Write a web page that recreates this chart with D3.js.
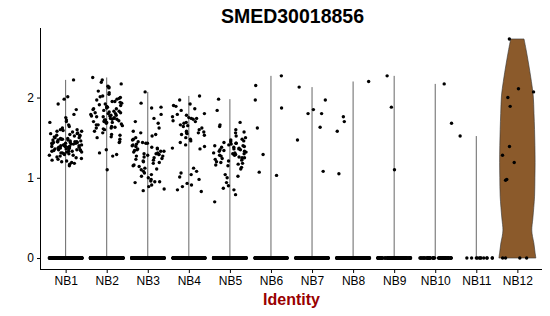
<!doctype html><html><head></head><body style="margin:0;background:#fff"><script src='https://d3js.org/d3.v7.min.js'></script>

<style>
	svg text {
		font-family: "Liberation Sans", Arial, sans-serif;
		fill: black;
	}
</style>

<script>
  // cluster names
  var groups = ["NB1", "NB2", "NB3", "NB4", "NB5", "NB6", "NB7", "NB8", "NB9", "NB10", "NB11", "NB12"];
  var yTicks = [0, 1, 2];

  // non-zero expression values per cluster
  var nb1 = [2.22, 2.01, 1.98, 1.92, 1.85, 1.79, 1.75, 1.72, 1.70, 1.69, 1.66, 1.64,
    1.62, 1.60, 1.60, 1.59, 1.58, 1.58, 1.57, 1.56, 1.55, 1.55, 1.54, 1.53, 1.53, 1.52, 1.51, 1.50,
    1.50, 1.49, 1.49, 1.48, 1.48, 1.47, 1.47, 1.46, 1.46, 1.45, 1.45, 1.45, 1.44, 1.44, 1.43, 1.43,
    1.43, 1.42, 1.42, 1.41, 1.41, 1.40, 1.40, 1.40, 1.39, 1.39, 1.38, 1.38, 1.37, 1.37, 1.36, 1.36,
    1.35, 1.35, 1.34, 1.34, 1.33, 1.33, 1.32, 1.32, 1.31, 1.30, 1.30, 1.29, 1.28, 1.28, 1.27, 1.26,
    1.25, 1.24, 1.23, 1.22, 1.21, 1.20, 1.19, 1.18, 1.17, 1.15, 1.44, 1.41, 1.38, 1.36, 1.47, 1.52,
    1.39, 1.42, 1.35, 1.31, 1.45, 1.40, 1.37, 1.33];
  var nb2 = [2.25, 2.22, 2.19, 2.17, 2.14, 2.13, 2.12, 2.06, 2.04, 2.02, 2.00, 1.98, 1.97, 1.95, 1.95,
    1.93, 1.92, 1.90, 1.89, 1.88, 1.87, 1.86, 1.85, 1.84, 1.83, 1.82, 1.81, 1.80, 1.80, 1.79, 1.78,
    1.77, 1.76, 1.76, 1.75, 1.74, 1.73, 1.72, 1.72, 1.71, 1.70, 1.70, 1.69, 1.68, 1.67, 1.66, 1.65,
    1.64, 1.63, 1.62, 1.61, 1.60, 1.58, 1.56, 1.54, 1.53, 1.51, 1.50, 1.48, 1.45, 1.44, 1.35, 1.31,
    1.29, 1.27, 1.10, 1.91, 1.83, 1.78, 1.74, 1.69, 1.86, 1.94, 2.01, 1.81, 1.73, 1.66, 1.77, 1.99,
    2.08, 1.71, 1.62];
  var nb3 = [2.07, 1.93, 1.88, 1.87, 1.79, 1.74, 1.70, 1.62, 1.58, 1.56, 1.54, 1.52, 1.50, 1.48, 1.45,
    1.43, 1.43, 1.42, 1.40, 1.39, 1.38, 1.37, 1.36, 1.35, 1.34, 1.33, 1.32, 1.31, 1.30, 1.30, 1.29,
    1.28, 1.27, 1.26, 1.25, 1.24, 1.23, 1.22, 1.21, 1.20, 1.18, 1.16, 1.15, 1.14, 1.12, 1.10, 1.08,
    1.06, 1.04, 1.02, 1.00, 0.98, 0.96, 0.95, 0.95, 0.94, 0.91, 0.89, 0.86, 0.84, 1.41, 1.33, 1.27,
    1.19, 1.36, 1.44, 1.29, 1.11, 1.68, 1.47];
  var nb4 = [2.02, 1.92, 1.90, 1.89, 1.84, 1.80, 1.78, 1.76, 1.75, 1.74, 1.74, 1.73, 1.71, 1.69, 1.68,
    1.66, 1.65, 1.64, 1.62, 1.60, 1.58, 1.57, 1.56, 1.56, 1.55, 1.53, 1.50, 1.48, 1.46, 1.44, 1.41,
    1.39, 1.37, 1.36, 1.12, 1.08, 1.06, 1.04, 1.01, 0.98, 0.93, 0.91, 0.89, 0.85, 0.83, 1.86, 1.70,
    1.54, 1.97, 1.79];
  var nb5 = [1.98, 1.84, 1.69, 1.66, 1.64, 1.60, 1.57, 1.56, 1.50, 1.48, 1.47, 1.46, 1.45, 1.44, 1.43,
    1.42, 1.41, 1.40, 1.40, 1.39, 1.38, 1.37, 1.36, 1.36, 1.35, 1.34, 1.33, 1.33, 1.32, 1.31, 1.30,
    1.30, 1.29, 1.28, 1.27, 1.26, 1.25, 1.25, 1.24, 1.23, 1.22, 1.21, 1.20, 1.19, 1.18, 1.17, 1.16,
    1.15, 1.13, 1.11, 1.04, 1.02, 1.00, 0.94, 0.90, 0.87, 0.85, 0.79, 0.70, 1.38, 1.35, 1.31, 1.28,
    1.43, 1.24, 1.52];
  var nb6 = [2.27, 2.15, 1.97, 1.87, 1.62, 1.29, 1.07, 1.03];
  var nb7 = [2.13, 1.97, 1.85, 1.80, 1.80, 1.63, 1.47, 1.08];
  var nb8 = [2.20, 1.76, 1.70, 1.58, 1.05];
  var nb9 = [2.27, 1.88, 1.10];
  var nb10 = [2.17, 1.68];
  var nb11 = [1.52];
  var nb12 = [2.73, 2.11, 2.07, 2.00, 1.89, 1.39, 1.28, 1.19, 0.98, 0.97];
  var nonZero = [nb1, nb2, nb3, nb4, nb5, nb6, nb7, nb8, nb9, nb10, nb11, nb12];

  // how many cells sit at zero in each cluster
  var zeroCounts = [400, 350, 350, 300, 300, 200, 200, 180, 120, 60, 12, 4];

  // NB12 violin outline: value and relative half width
  var nb12ViolinY = [0, 0.10, 0.19, 0.27, 0.35, 0.50, 0.77, 1.00, 1.19, 1.40, 1.60, 1.80, 2.02, 2.20, 2.43, 2.60, 2.73];
  var nb12ViolinW = [1.0, 0.94, 0.89, 0.82, 0.78, 0.84, 0.93, 0.95, 0.96, 0.95, 0.93, 0.90, 0.86, 0.76, 0.60, 0.47, 0.36];

  var width = 550, height = 316;
  var mLeft = 41, mRight = 542, mTop = 28, mBottom = 269;

  var svg = d3.select("body").append("svg")
    .attr("width", width)
    .attr("height", height);

  var x = d3.scalePoint()
    .domain(groups)
    .range([mLeft, mRight])
    .padding(0.6);
  var step = x.step();

  var y = d3.scaleLinear()
    .domain([-0.1365, 2.8665])
    .range([mBottom, mTop]);

  // thin violins (NB1..NB11) look like a line from 0 to the max
  groups.forEach(function(g, i) {
    if (g == "NB12") return;
    var mx = d3.max(nonZero[i]);
    svg.append("line")
      .attr("x1", x(g)).attr("x2", x(g))
      .attr("y1", y(0)).attr("y2", y(mx))
      .attr("stroke", "#666")
      .attr("stroke-width", 1);
  });

  // NB12 violin
  var half = 0.45 * step;
  var prof = nb12ViolinY.map(function(v, i) { return [v, nb12ViolinW[i]]; });
  var area = d3.area()
    .y(function(d) { return y(d[0]); })
    .x0(function(d) { return x("NB12") - d[1] * half; })
    .x1(function(d) { return x("NB12") + d[1] * half; })
    .curve(d3.curveCatmullRom);
  svg.append("path")
    .datum(prof)
    .attr("d", area)
    .attr("fill", "#8b5a2b")
    .attr("stroke", "#333")
    .attr("stroke-width", 0.6);

  // jitter: fixed hash of the point index, so the picture never changes
  function jit(i, j) {
    var s = Math.sin((j + 1) * 12.9898 + (i + 1) * 78.233) * 43758.5453;
    return s - Math.floor(s);
  }

  var pts = [];
  groups.forEach(function(g, i) {
    var vals = nonZero[i].slice();
    for (var k = 0; k < zeroCounts[i]; k++) vals.push(0);
    vals.forEach(function(v, j) {
      pts.push({ g: g, v: v, dx: (jit(i, j) - 0.5) * 0.8 * step });
    });
  });

  svg.selectAll("circle.pt")
    .data(pts)
    .enter()
    .append("circle")
    .attr("class", "pt")
    .attr("cx", function(d) { return x(d.g) + d.dx; })
    .attr("cy", function(d) { return y(d.v); })
    .attr("r", 1.7)
    .attr("fill", "black");

  // axes
  var xAxis = d3.axisBottom(x).tickSizeOuter(0).tickSize(4).tickPadding(3);
  var gx = svg.append("g")
    .attr("transform", "translate(0," + mBottom + ")")
    .call(xAxis);
  gx.select(".domain").attr("d", "M" + mLeft + ",0.5H" + mRight);
  gx.selectAll("text").style("font-size", "12px").attr("fill", "black");

  var yAxis = d3.axisLeft(y).tickValues(yTicks).tickFormat(d3.format("d"))
    .tickSizeOuter(0).tickSize(4).tickPadding(3);
  var gy = svg.append("g")
    .attr("transform", "translate(" + mLeft + ",0)")
    .call(yAxis);
  gy.select(".domain").attr("d", "M-0.5," + mTop + "V" + (mBottom + 1));
  gy.selectAll("text").style("font-size", "12px").attr("fill", "black");

  svg.append("text")
    .attr("x", (mLeft + mRight) / 2 + 1)
    .attr("y", 23)
    .attr("text-anchor", "middle")
    .style("font-size", "19.5px")
    .style("font-weight", "bold")
    .text("SMED30018856");

  svg.append("text")
    .attr("x", (mLeft + mRight) / 2)
    .attr("y", 305)
    .attr("text-anchor", "middle")
    .style("font-size", "16px")
    .style("font-weight", "bold")
    .style("fill", "#990000")
    .text("Identity");
</script></body></html>
